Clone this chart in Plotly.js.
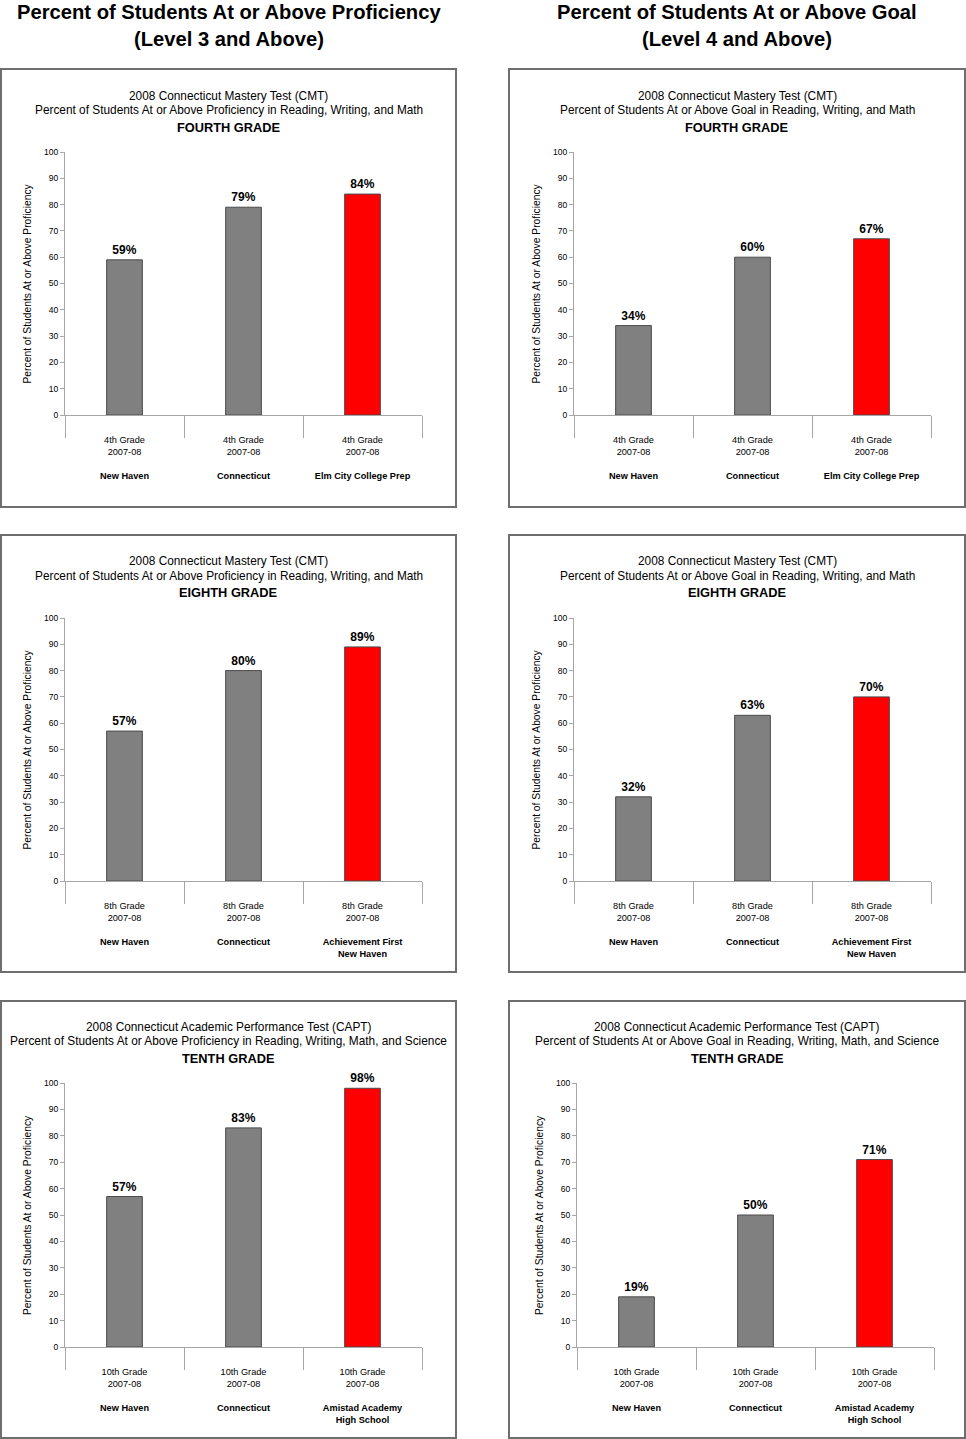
<!DOCTYPE html>
<html>
<head>
<meta charset="utf-8">
<script src="https://cdn.plot.ly/plotly-3.0.1.min.js"></script>
<style>
  html, body { margin: 0; padding: 0; background: #fff; }
  #chart { width: 966px; height: 1439px; }
</style>
</head>
<body>
<div id="chart"></div>
<script>
// ---------------- data ----------------
const yearLabel = '2007-08';
const gradeLabels = ['4th Grade', '8th Grade', '10th Grade'];
const schools4 = ['New Haven', 'Connecticut', 'Elm City College Prep'];
const schools8 = ['New Haven', 'Connecticut', 'Achievement First<br>New Haven'];
const schools10 = ['New Haven', 'Connecticut', 'Amistad Academy<br>High School'];

const proficiency4 = [59, 79, 84];
const proficiency8 = [57, 80, 89];
const proficiency10 = [57, 83, 98];

const goal4 = [34, 60, 67];
const goal8 = [32, 63, 70];
const goal10 = [19, 50, 71];

const barColors = ['#808080', '#808080', '#FF0000'];

const columnTitles = [
  ['Percent of Students At or Above Proficiency', '(Level 3 and Above)'],
  ['Percent of Students At or Above Goal', '(Level 4 and Above)']
];
const testNames = ['2008 Connecticut Mastery Test (CMT)', '2008 Connecticut Mastery Test (CMT)', '2008 Connecticut Academic Performance Test (CAPT)'];
const subjectsProf = [
  'Percent of Students At or Above Proficiency in Reading, Writing, and Math',
  'Percent of Students At or Above Proficiency in Reading, Writing, and Math',
  'Percent of Students At or Above Proficiency in Reading, Writing, Math, and Science'
];
const subjectsGoal = [
  'Percent of Students At or Above Goal in Reading, Writing, and Math',
  'Percent of Students At or Above Goal in Reading, Writing, and Math',
  'Percent of Students At or Above Goal in Reading, Writing, Math, and Science'
];
const gradeTitles = ['FOURTH GRADE', 'EIGHTH GRADE', 'TENTH GRADE'];
const yAxisTitle = 'Percent of Students At or Above Proficiency';

// ---------------- layout geometry ----------------
const W = 966, H = 1439;
const FONT = 'Arial, "Liberation Sans", sans-serif';
const px = v => v / W;
const py = v => 1 - v / H;

const panels = [
  {col: 0, row: 0, vals: proficiency4, schools: schools4, subj: subjectsProf},
  {col: 0, row: 1, vals: proficiency8, schools: schools8, subj: subjectsProf},
  {col: 0, row: 2, vals: proficiency10, schools: schools10, subj: subjectsProf},
  {col: 1, row: 0, vals: goal4, schools: schools4, subj: subjectsGoal},
  {col: 1, row: 1, vals: goal8, schools: schools8, subj: subjectsGoal},
  {col: 1, row: 2, vals: goal10, schools: schools10, subj: subjectsGoal}
];

const boxX = [[1, 456], [509, 965]];
const boxY = [[69, 507], [535, 972], [1001, 1438]];
const plotY = [[152, 415], [618, 881], [1083, 1347]];
const titleY = [[96, 110, 127], [561, 576, 592], [1027, 1041, 1058]];
function plotX(col, row) {
  if (col === 0) return [65, 422];
  if (row === 2) return [577, 934];
  return [574, 931];
}

const data = [];
const layout = {
  width: W, height: H,
  margin: {l: 0, r: 0, t: 0, b: 0},
  paper_bgcolor: '#fff', plot_bgcolor: '#fff',
  showlegend: false,
  font: {family: FONT, color: '#000'},
  shapes: [], annotations: []
};

// column headers
columnTitles.forEach((lines, c) => {
  const cx = (boxX[c][0] + boxX[c][1]) / 2;
  lines.forEach((t, i) => {
    layout.annotations.push({
      xref: 'paper', yref: 'paper', x: px(cx), y: py(i === 0 ? 12 : 39),
      xanchor: 'center', yanchor: 'middle', showarrow: false,
      text: '<b>' + t + '</b>', font: {size: 20.2, family: FONT, color: '#000'}
    });
  });
});

panels.forEach((p, i) => {
  const n = i + 1;
  const xa = n === 1 ? 'xaxis' : 'xaxis' + n;
  const ya = n === 1 ? 'yaxis' : 'yaxis' + n;
  const xr = n === 1 ? 'x' : 'x' + n;
  const yr = n === 1 ? 'y' : 'y' + n;
  const pxr = plotX(p.col, p.row);
  const pyr = plotY[p.row];
  const grade = gradeLabels[p.row];

  data.push({
    type: 'bar', x: p.schools, y: p.vals, xaxis: xr, yaxis: yr,
    width: 0.3,
    marker: {color: barColors, line: {color: '#4a4a4a', width: 1}},
    texttemplate: '%{y}%', textposition: 'outside', cliponaxis: false,
    constraintext: 'none',
    textfont: {size: 12, family: FONT, color: '#000', weight: 'bold'},
    hoverinfo: 'skip'
  });

  layout[xa] = {
    domain: [px(pxr[0]), px(pxr[1])], anchor: yr,
    type: 'category', range: [-0.5, 2.5], fixedrange: true,
    tickvals: p.schools,
    ticktext: p.schools.map(s => grade + '<br>' + yearLabel + '<br> <br><b>' + s + '</b>'),
    tickson: 'boundaries', ticks: 'outside', ticklen: 22, tickcolor: '#a6a6a6', tickwidth: 1,
    ticklabelstandoff: 16,
    showline: true, linecolor: '#a6a6a6', linewidth: 1,
    showgrid: false, zeroline: false,
    tickfont: {size: 9.2, family: FONT, color: '#000'}
  };
  layout[ya] = {
    domain: [py(pyr[1]), py(pyr[0])], anchor: xr,
    range: [0, 100], dtick: 10, tick0: 0, fixedrange: true,
    ticks: 'outside', ticklen: 4, tickcolor: '#a6a6a6', tickwidth: 1,
    showline: true, linecolor: '#a6a6a6', linewidth: 1,
    showgrid: false, zeroline: false,
    tickfont: {size: 8.5, family: FONT, color: '#000'}
  };

  // panel frame
  layout.shapes.push({
    type: 'rect', xref: 'paper', yref: 'paper',
    x0: px(boxX[p.col][0]), x1: px(boxX[p.col][1]),
    y0: py(boxY[p.row][1]), y1: py(boxY[p.row][0]),
    line: {color: '#6e6e6e', width: 2}, fillcolor: 'rgba(0,0,0,0)', layer: 'below'
  });

  // panel titles
  const cx = (boxX[p.col][0] + boxX[p.col][1]) / 2;
  const lines = [
    {t: testNames[p.row], s: 11.85},
    {t: p.subj[p.row], s: 11.85},
    {t: '<b>' + gradeTitles[p.row] + '</b>', s: 12.8}
  ];
  lines.forEach((l, k) => {
    layout.annotations.push({
      xref: 'paper', yref: 'paper', x: px(cx), y: py(titleY[p.row][k]),
      xanchor: 'center', yanchor: 'middle', showarrow: false,
      text: l.t, font: {size: l.s, family: FONT, color: '#000'}
    });
  });

  // y axis title
  layout.annotations.push({
    xref: 'paper', yref: 'paper',
    x: px(pxr[0] - 38), y: py((pyr[0] + pyr[1]) / 2),
    xanchor: 'center', yanchor: 'middle', showarrow: false, textangle: -90,
    text: yAxisTitle, font: {size: 10.3, family: FONT, color: '#000'}
  });
});

Plotly.newPlot('chart', data, layout, {staticPlot: true, displayModeBar: false});
</script>
</body>
</html>
